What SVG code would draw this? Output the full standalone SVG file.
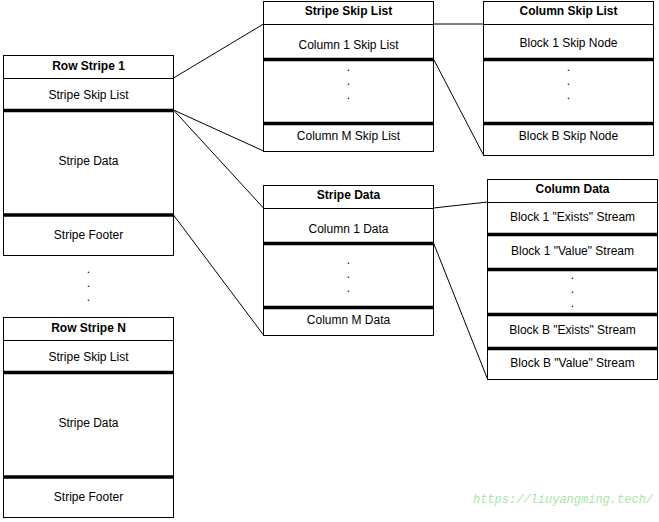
<svg xmlns="http://www.w3.org/2000/svg" width="659" height="522" viewBox="0 0 659 522">
<style>
.box{fill:#fff;stroke:#000;stroke-width:1}
.thin{stroke:#000;stroke-width:1;fill:none}
.thick{stroke:#000;stroke-width:3.5;fill:none}
.t{font-family:"Liberation Sans",Arial,sans-serif;font-size:12px;fill:#000;text-anchor:middle;dominant-baseline:central}
.b{font-weight:bold}
.wm{font-family:"Liberation Mono","Courier New",monospace;font-size:12px;font-style:italic;fill:#a6e6a6}
</style>
<rect width="659" height="522" fill="#fff"/>
<g id="connectors">
<line class="thin" x1="173.5" y1="78" x2="263.5" y2="24"/>
<line class="thin" x1="173.5" y1="110" x2="263.5" y2="151"/>
<line class="thin" x1="173.5" y1="110" x2="263.5" y2="208"/>
<line class="thin" x1="173.5" y1="215" x2="263.5" y2="335"/>
<line class="thin" x1="433.5" y1="24" x2="483.5" y2="24"/>
<line class="thin" x1="433.5" y1="59" x2="483.5" y2="155"/>
<line class="thin" x1="433.5" y1="208" x2="487.5" y2="202"/>
<line class="thin" x1="433.5" y1="243" x2="487.5" y2="379"/>
</g>
<g id="row-stripe-1">
<rect class="box" x="3.5" y="55.5" width="170" height="200"/>
<line class="thin" x1="3.5" y1="78.5" x2="173.5" y2="78.5"/>
<line class="thick" x1="3.5" y1="110.5" x2="173.5" y2="110.5"/>
<line class="thick" x1="3.5" y1="215" x2="173.5" y2="215"/>
<text class="t b" x="88.5" y="66">Row Stripe 1</text>
<text class="t" x="88.5" y="95">Stripe Skip List</text>
<text class="t" x="88.5" y="161">Stripe Data</text>
<text class="t" x="88.5" y="235">Stripe Footer</text>
</g>
<g id="ellipsis">
<text class="t" x="88.5" y="269">.</text>
<text class="t" x="88.5" y="283">.</text>
<text class="t" x="88.5" y="297">.</text>
</g>
<g id="row-stripe-n">
<rect class="box" x="3.5" y="317.5" width="170" height="200"/>
<line class="thin" x1="3.5" y1="340.5" x2="173.5" y2="340.5"/>
<line class="thick" x1="3.5" y1="372.5" x2="173.5" y2="372.5"/>
<line class="thick" x1="3.5" y1="477" x2="173.5" y2="477"/>
<text class="t b" x="88.5" y="328">Row Stripe N</text>
<text class="t" x="88.5" y="357">Stripe Skip List</text>
<text class="t" x="88.5" y="423">Stripe Data</text>
<text class="t" x="88.5" y="497">Stripe Footer</text>
</g>
<g id="stripe-skip-list">
<rect class="box" x="263.5" y="1.5" width="170" height="150"/>
<line class="thin" x1="263.5" y1="24.5" x2="433.5" y2="24.5"/>
<line class="thick" x1="263.5" y1="59.5" x2="433.5" y2="59.5"/>
<line class="thick" x1="263.5" y1="123.5" x2="433.5" y2="123.5"/>
<text class="t b" x="348.5" y="11">Stripe Skip List</text>
<text class="t" x="348.5" y="45">Column 1 Skip List</text>
<text class="t" x="348.5" y="67">.</text>
<text class="t" x="348.5" y="81">.</text>
<text class="t" x="348.5" y="95">.</text>
<text class="t" x="348.5" y="136">Column M Skip List</text>
</g>
<g id="column-skip-list">
<rect class="box" x="483.5" y="1.5" width="170" height="154"/>
<line class="thin" x1="483.5" y1="24.5" x2="653.5" y2="24.5"/>
<line class="thick" x1="483.5" y1="59.5" x2="653.5" y2="59.5"/>
<line class="thick" x1="483.5" y1="123.5" x2="653.5" y2="123.5"/>
<text class="t b" x="568.5" y="11">Column Skip List</text>
<text class="t" x="568.5" y="43">Block 1 Skip Node</text>
<text class="t" x="568.5" y="67">.</text>
<text class="t" x="568.5" y="81">.</text>
<text class="t" x="568.5" y="95">.</text>
<text class="t" x="568.5" y="136">Block B Skip Node</text>
</g>
<g id="stripe-data">
<rect class="box" x="263.5" y="185.5" width="170" height="150"/>
<line class="thin" x1="263.5" y1="208.5" x2="433.5" y2="208.5"/>
<line class="thick" x1="263.5" y1="243.5" x2="433.5" y2="243.5"/>
<line class="thick" x1="263.5" y1="307.5" x2="433.5" y2="307.5"/>
<text class="t b" x="348.5" y="195">Stripe Data</text>
<text class="t" x="348.5" y="229">Column 1 Data</text>
<text class="t" x="348.5" y="260">.</text>
<text class="t" x="348.5" y="274">.</text>
<text class="t" x="348.5" y="288">.</text>
<text class="t" x="348.5" y="320">Column M Data</text>
</g>
<g id="column-data">
<rect class="box" x="487.5" y="179.5" width="170" height="200"/>
<line class="thin" x1="487.5" y1="202.5" x2="657.5" y2="202.5"/>
<line class="thick" x1="487.5" y1="234.5" x2="657.5" y2="234.5"/>
<line class="thick" x1="487.5" y1="269.5" x2="657.5" y2="269.5"/>
<line class="thick" x1="487.5" y1="314.5" x2="657.5" y2="314.5"/>
<line class="thick" x1="487.5" y1="348.5" x2="657.5" y2="348.5"/>
<text class="t b" x="572.5" y="189">Column Data</text>
<text class="t" x="572.5" y="217">Block 1 "Exists" Stream</text>
<text class="t" x="572.5" y="251">Block 1 "Value" Stream</text>
<text class="t" x="572.5" y="275">.</text>
<text class="t" x="572.5" y="289">.</text>
<text class="t" x="572.5" y="303">.</text>
<text class="t" x="572.5" y="330">Block B "Exists" Stream</text>
<text class="t" x="572.5" y="363">Block B "Value" Stream</text>
</g>
<text class="wm" x="473" y="503">https://liuyangming.tech/</text>
</svg>
